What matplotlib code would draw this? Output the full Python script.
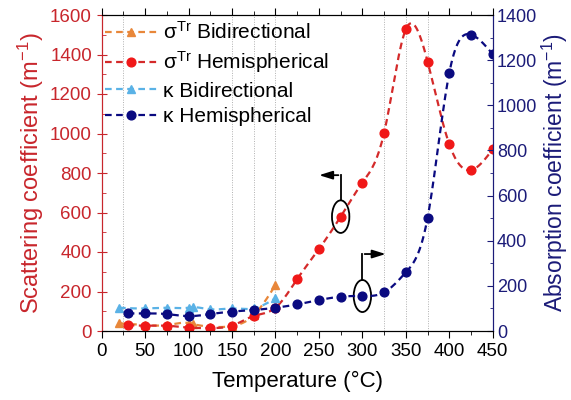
import numpy as np
import matplotlib
matplotlib.use("Agg")
import matplotlib.pyplot as plt
from matplotlib.patches import Ellipse
from matplotlib.ticker import MultipleLocator

plt.rcParams['font.family'] = ['Liberation Sans', 'DejaVu Sans']
plt.rcParams['mathtext.fontset'] = 'custom'
plt.rcParams['mathtext.rm'] = 'Liberation Sans'
plt.rcParams['mathtext.it'] = 'Liberation Sans:italic'

# hemispherical measurements
temp_hemi = [30, 50, 75, 100, 125, 150, 175, 200, 225, 250, 275, 300, 325, 350, 375, 400, 425, 450]
sigma_hemi = [30, 27, 27, 17, 15, 27, 76, 118, 263, 415, 579, 751, 1004, 1528, 1364, 945, 815, 921]
kappa_hemi = [78, 78, 75, 66, 75, 86, 93, 103, 118, 137, 152, 155, 171, 260, 502, 1144, 1313, 1226]

# bidirectional measurements
temp_bidi = [20, 50, 75, 100, 105, 125, 150, 175, 200]
sigma_bidi = [39, 30, 30, 40, 35, 22, 25, 80, 233]
kappa_bidi = [103, 100, 103, 103, 105, 96, 100, 100, 145]

# dotted marker lines
guide_temps = [25, 150, 175, 200, 325, 350, 375]

RED_AX = '#c8262c'
NAVY = '#1b1b78'


def smooth(x, y, n=300):
    # natural cubic spline through the points, only for drawing the curve
    x = np.asarray(x, float)
    y = np.asarray(y, float)
    k = len(x)
    h = np.diff(x)
    A = np.zeros((k, k))
    r = np.zeros(k)
    A[0, 0] = A[-1, -1] = 1
    for i in range(1, k - 1):
        A[i, i - 1] = h[i - 1]
        A[i, i] = 2 * (h[i - 1] + h[i])
        A[i, i + 1] = h[i]
        r[i] = 6 * ((y[i + 1] - y[i]) / h[i] - (y[i] - y[i - 1]) / h[i - 1])
    M = np.linalg.solve(A, r)
    xs = np.linspace(x[0], x[-1], n)
    idx = np.clip(np.searchsorted(x, xs) - 1, 0, k - 2)
    x0, x1 = x[idx], x[idx + 1]
    hh = x1 - x0
    a = (x1 - xs) / hh
    b = (xs - x0) / hh
    ys = a * y[idx] + b * y[idx + 1] + ((a ** 3 - a) * M[idx] + (b ** 3 - b) * M[idx + 1]) * hh ** 2 / 6
    return xs, ys


fig = plt.figure(figsize=(5.71, 4.0), dpi=100)
ax1 = fig.add_axes([0.178, 0.1725, 0.685, 0.79])
ax2 = ax1.twinx()

for t in guide_temps:
    ax1.axvline(t, color='#b0b0b0', ls=(0, (1, 1.5)), lw=0.7, zorder=0)

dash = (0, (3, 2))
orange = '#e8873a'
red = '#f01818'
lblue = '#5ab2e6'
navy = '#0a0a80'
ms = 6.3

xs, ys = smooth(temp_bidi, sigma_bidi)
ax1.plot(xs, ys, color=orange, ls=dash, lw=1.6)
ax1.plot(temp_bidi, sigma_bidi, '^', color=orange, ms=ms)
xs, ys = smooth(temp_hemi, sigma_hemi)
ax1.plot(xs, ys, color='#d42a2a', ls=dash, lw=1.6)
ax1.plot(temp_hemi, sigma_hemi, 'o', color=red, ms=ms)

xs, ys = smooth(temp_bidi, kappa_bidi)
ax2.plot(xs, ys, color=lblue, ls=dash, lw=1.6)
ax2.plot(temp_bidi, kappa_bidi, '^', color=lblue, ms=ms)
xs, ys = smooth(temp_hemi, kappa_hemi)
ax2.plot(xs, ys, color=navy, ls=dash, lw=1.6)
ax2.plot(temp_hemi, kappa_hemi, 'o', color=navy, ms=ms)

# annotation: red point at 275 -> left axis
tr = temp_hemi.index(275)
cx, cy = temp_hemi[tr], sigma_hemi[tr]
ax1.add_patch(Ellipse((cx, cy), 20, 165, fill=False, color='black', lw=1.3))
ax1.plot([cx, cx], [cy + 82, cy + 210], color='black', lw=1.3)
ax1.annotate('', xy=(cx - 28, cy + 210), xytext=(cx + 0.6, cy + 210),
             arrowprops=dict(arrowstyle='-|>,head_length=0.8,head_width=0.25', color='black', lw=1.3))

# annotation: navy point at 300 -> right axis
tb = temp_hemi.index(300)
cx, cy = temp_hemi[tb], kappa_hemi[tb]
ax2.add_patch(Ellipse((cx, cy), 20, 142, fill=False, color='black', lw=1.3))
ax2.plot([cx, cx], [cy + 71, cy + 186], color='black', lw=1.3)
ax2.annotate('', xy=(cx + 30, cy + 186), xytext=(cx - 0.6, cy + 186),
             arrowprops=dict(arrowstyle='-|>,head_length=0.8,head_width=0.25', color='black', lw=1.3))

ax1.set_xlim(0, 450)
ax1.set_ylim(0, 1600)
ax2.set_ylim(0, 1400)
ax1.xaxis.set_major_locator(MultipleLocator(50))
ax1.xaxis.set_minor_locator(MultipleLocator(25))
ax1.yaxis.set_major_locator(MultipleLocator(200))
ax1.yaxis.set_minor_locator(MultipleLocator(100))
ax2.yaxis.set_major_locator(MultipleLocator(200))
ax2.yaxis.set_minor_locator(MultipleLocator(100))

ax1.tick_params(axis='x', which='major', direction='out', length=5, top=True, labelsize=13.5)
ax1.tick_params(axis='x', which='minor', direction='out', length=3, top=True)
ax1.tick_params(axis='y', which='major', direction='inout', length=7, colors=RED_AX, labelsize=13.5)
ax1.tick_params(axis='y', which='minor', direction='in', length=3, colors=RED_AX)
ax2.tick_params(axis='y', which='major', direction='in', length=4, colors=NAVY, labelsize=13, pad=3)
ax2.tick_params(axis='y', which='minor', direction='in', length=2.5, colors=NAVY)

ax2.spines['left'].set_color(RED_AX)
ax2.spines['right'].set_color(NAVY)
ax1.spines['left'].set_color(RED_AX)
ax1.spines['right'].set_color(NAVY)

ax1.set_xlabel('Temperature (°C)', fontsize=16, labelpad=8)
ax1.set_ylabel('Scattering coefficient (m$^{-1}$)', fontsize=17, color=RED_AX, labelpad=3)
ax2.set_ylabel('Absorption coefficient (m$^{-1}$)', fontsize=16.5, color=NAVY, labelpad=2)

handles = [
    plt.Line2D([], [], color=orange, ls=dash, lw=1.6, marker='^', ms=ms),
    plt.Line2D([], [], color='#d42a2a', ls=dash, lw=1.6, marker='o', ms=ms, mfc=red, mec=red),
    plt.Line2D([], [], color=lblue, ls=dash, lw=1.6, marker='^', ms=ms),
    plt.Line2D([], [], color=navy, ls=dash, lw=1.6, marker='o', ms=ms),
]
labels = ['σ$^{\\mathrm{Tr}}$ Bidirectional', 'σ$^{\\mathrm{Tr}}$ Hemispherical',
          'κ Bidirectional', 'κ Hemispherical']
ax2.legend(handles, labels, loc='upper left', frameon=False, fontsize=15,
           handlelength=2.5, handletextpad=0.3, labelspacing=0.3, borderaxespad=0.05,
           borderpad=0.1, bbox_to_anchor=(0.0, 0.99))

fig.savefig('out.png', dpi=100)
